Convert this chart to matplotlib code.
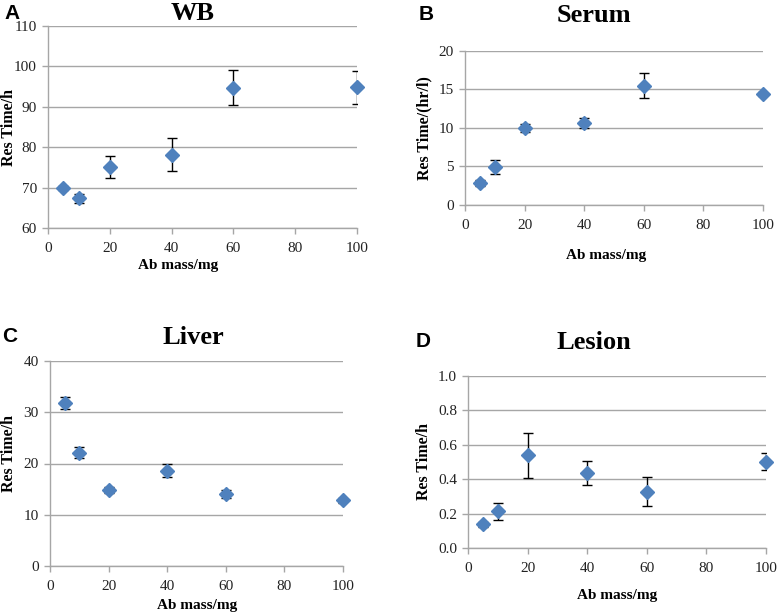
import matplotlib
matplotlib.use('Agg')
import matplotlib.pyplot as plt
import numpy as np

plt.rcParams['font.family'] = ['Liberation Serif', 'DejaVu Serif']

# Ab mass (mg) shared by all panels
mass = [5, 10, 20, 40, 60, 100]

wb_vals = [69.9, 67.4, 75.0, 78.1, 94.7, 94.8]
wb_err = [0.5, 1.1, 2.7, 4.1, 4.3, 4.0]

serum_vals = [2.86, 4.94, 10.0, 10.65, 15.5, 14.4]
serum_err = [0.4, 0.85, 0.5, 0.65, 1.6, 0.3]

liver_vals = [31.8, 22.1, 14.9, 18.6, 14.0, 12.8]
liver_err = [1.2, 1.1, 0.6, 1.3, 0.8, 0.5]

lesion_vals = [0.139, 0.214, 0.539, 0.438, 0.328, 0.502]
lesion_err = [0.015, 0.05, 0.13, 0.07, 0.084, 0.048]

W, H = 778, 615
fig = plt.figure(figsize=(W / 100, H / 100), dpi=100)

blue = '#4F81BD'
grid_c = '#A6A6A6'


def px_axes(l, r, t, b):
    return fig.add_axes([l / W, 1 - b / H, (r - l) / W, (b - t) / H])


panels = [
    dict(letter='A', title='WB', ylabel='Res Time/h', vals=wb_vals, err=wb_err,
         box=(48, 357, 26, 228), ylim=(60, 110), yticks=np.arange(60, 111, 10), fmt='{:.0f}',
         letter_xy=(4, 4), title_xy=(193, 14), xlab_xy=(178, 266), ylab_xy=(9, 128)),
    dict(letter='B', title='Serum', ylabel='Res Time/(hr/l)', vals=serum_vals, err=serum_err,
         box=(465, 763, 51, 205), ylim=(0, 20), yticks=np.arange(0, 21, 5), fmt='{:.0f}',
         letter_xy=(419, 5), title_xy=(594, 16), xlab_xy=(606, 256), ylab_xy=(424, 128)),
    dict(letter='C', title='Liver', ylabel='Res Time/h', vals=liver_vals, err=liver_err,
         box=(50, 343, 361, 566), ylim=(0, 40), yticks=np.arange(0, 41, 10), fmt='{:.0f}',
         letter_xy=(2, 327), title_xy=(193, 338), xlab_xy=(197, 605), ylab_xy=(9, 453)),
    dict(letter='D', title='Lesion', ylabel='Res Time/h', vals=lesion_vals, err=lesion_err,
         box=(468, 766, 376, 548), ylim=(0, 1.0), yticks=np.arange(0, 1.01, 0.2), fmt='{:.1f}',
         letter_xy=(416, 332), title_xy=(594, 342), xlab_xy=(617, 595), ylab_xy=(424, 462)),
]

for p in panels:
    ax = px_axes(*p['box'])
    ax.errorbar(mass, p['vals'], yerr=p['err'], fmt='none', ecolor='black',
                elinewidth=1, capsize=3.5, capthick=1, zorder=3)
    ax.plot(mass, p['vals'], 'D', color=blue, markersize=7.5, zorder=4, clip_on=False)
    ax.set_xlim(0, 100)
    ax.set_ylim(*p['ylim'])
    ax.set_xticks(np.arange(0, 101, 20))
    ax.set_yticks(p['yticks'])
    ax.set_yticklabels([p['fmt'].format(v) for v in p['yticks']])
    ax.yaxis.grid(True, color=grid_c, lw=1)
    ax.set_axisbelow(True)
    for s in ['top', 'right']:
        ax.spines[s].set_visible(False)
    for s in ['left', 'bottom']:
        ax.spines[s].set_color(grid_c)
        ax.spines[s].set_linewidth(1)
    ax.tick_params(axis='both', colors=grid_c, labelcolor='#222222', labelsize=11,
                   length=4, width=1, direction='out')
    ax.tick_params(axis='y', pad=4)
    ax.tick_params(axis='x', pad=6)

    lx, ly = p['letter_xy']
    fig.text(lx / W, 1 - ly / H, p['letter'], family='Liberation Sans', fontweight='bold',
             fontsize=15, ha='left', va='top')
    tx, ty = p['title_xy']
    fig.text(tx / W, 1 - ty / H, p['title'], fontweight='bold', fontsize=19,
             ha='center', va='center')
    xx, xy = p['xlab_xy']
    fig.text(xx / W, 1 - xy / H, 'Ab mass/mg', fontweight='bold', fontsize=11,
             ha='center', va='center')
    yx, yy = p['ylab_xy']
    fig.text(yx / W, 1 - yy / H, p['ylabel'], fontweight='bold', fontsize=11.5,
             ha='center', va='center', rotation=90)

fig.savefig('out.png', dpi=100)
